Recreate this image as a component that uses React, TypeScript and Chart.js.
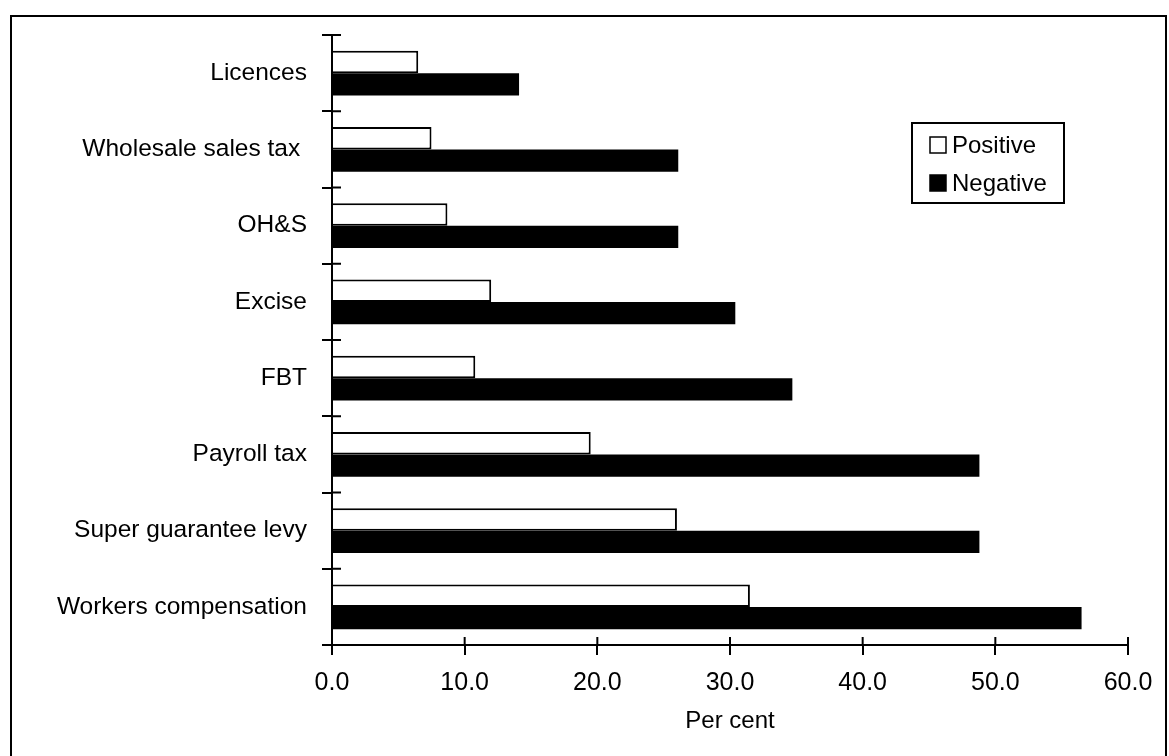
import { useEffect, useRef } from 'react';
import { Chart, registerables } from 'chart.js';

Chart.register(...registerables);

// Categories, listed top to bottom
const categories = [
  'Licences',
  'Wholesale sales tax ',
  'OH&S',
  'Excise',
  'FBT',
  'Payroll tax',
  'Super guarantee levy',
  'Workers compensation',
];

// Share of respondents (per cent)
const positiveValues = [6.5, 7.5, 8.7, 12.0, 10.8, 19.5, 26.0, 31.5];
const negativeValues = [14.1, 26.1, 26.1, 30.4, 34.7, 48.8, 48.8, 56.5];

const seriesNames = ['Positive', 'Negative'];
const xMin = 0;
const xMax = 60;
const xStep = 10;
const xTitle = 'Per cent';

const FONT = '"Liberation Sans", Arial, Helvetica, sans-serif';

// White background plus the surrounding frame
const framePlugin = {
  id: 'frame',
  beforeDraw(chart: any) {
    const { ctx, width, height } = chart;
    ctx.save();
    ctx.fillStyle = '#fff';
    ctx.fillRect(0, 0, width, height);
    ctx.strokeStyle = '#000';
    ctx.lineWidth = 2;
    ctx.strokeRect(11, 16, width - 14, height + 20);
    ctx.restore();
  },
};

// Tick marks that cross the axis lines (inner half)
const crossTicksPlugin = {
  id: 'crossTicks',
  afterDraw(chart: any) {
    const { ctx } = chart;
    const xs = chart.scales.x;
    const ys = chart.scales.y;
    ctx.save();
    ctx.strokeStyle = '#000';
    ctx.lineWidth = 2;
    ctx.beginPath();
    const n = ys.ticks.length;
    for (let i = 0; i <= n; i++) {
      const y = ys.top + (i * (ys.bottom - ys.top)) / n;
      ctx.moveTo(xs.left, y);
      ctx.lineTo(xs.left + 9, y);
    }
    xs.ticks.forEach((t: any) => {
      const px = xs.getPixelForValue(t.value);
      ctx.moveTo(px, ys.bottom);
      ctx.lineTo(px, ys.bottom - 8);
    });
    ctx.stroke();
    ctx.restore();
  },
};

// Boxed legend inside the plot area
const boxLegendPlugin = {
  id: 'boxLegend',
  afterDraw(chart: any) {
    const { ctx, chartArea } = chart;
    const right = chartArea.right - 64;
    const top = chartArea.top + 88;
    const w = 152;
    const h = 80;
    const left = right - w;
    ctx.save();
    ctx.strokeStyle = '#000';
    ctx.lineWidth = 2;
    ctx.fillStyle = '#fff';
    ctx.fillRect(left, top, w, h);
    ctx.strokeRect(left, top, w, h);
    ctx.font = `24px ${FONT}`;
    ctx.textBaseline = 'middle';
    ctx.textAlign = 'left';
    chart.data.datasets.forEach((ds: any, i: number) => {
      const cy = top + 22 + i * 38;
      const sx = left + 18;
      ctx.fillStyle = ds.backgroundColor;
      ctx.fillRect(sx, cy - 8, 16, 16);
      ctx.lineWidth = 1.5;
      ctx.strokeStyle = '#000';
      ctx.strokeRect(sx, cy - 8, 16, 16);
      ctx.fillStyle = '#000';
      ctx.fillText(ds.label, sx + 22, cy + 1);
    });
    ctx.restore();
  },
};

export default function App() {
  const canvasRef = useRef<HTMLCanvasElement | null>(null);

  useEffect(() => {
    const canvas = canvasRef.current;
    if (!canvas) return;
    const chart = new Chart(canvas, {
      type: 'bar',
      data: {
        labels: categories,
        datasets: [
          {
            label: seriesNames[0],
            data: positiveValues,
            backgroundColor: '#ffffff',
            borderColor: '#000000',
            borderWidth: 2,
            categoryPercentage: 0.59,
            barPercentage: 1.0,
          },
          {
            label: seriesNames[1],
            data: negativeValues,
            backgroundColor: '#000000',
            borderColor: '#000000',
            borderWidth: 0,
            categoryPercentage: 0.59,
            barPercentage: 1.0,
          },
        ],
      },
      options: {
        indexAxis: 'y',
        responsive: false,
        animation: false,
        devicePixelRatio: 1,
        layout: { padding: { left: 11, top: 35, right: 41, bottom: 0 } },
        plugins: {
          legend: { display: false },
          tooltip: { enabled: false },
          title: { display: false },
        },
        scales: {
          x: {
            type: 'linear',
            position: 'bottom',
            min: xMin,
            max: xMax,
            ticks: {
              stepSize: xStep,
              color: '#000',
              padding: 13,
              font: { family: FONT, size: 25 },
              callback: (v: any) => Number(v).toFixed(1),
              maxRotation: 0,
            },
            grid: {
              display: true,
              drawOnChartArea: false,
              drawTicks: true,
              tickLength: 10,
              color: '#000',
              lineWidth: 2,
            },
            border: { display: true, color: '#000', width: 2 },
            title: {
              display: true,
              text: xTitle,
              color: '#000',
              font: { family: FONT, size: 24 },
              padding: { top: 0, bottom: 20 },
            },
            afterFit(scale: any) {
              scale.height = 111;
            },
          },
          y: {
            type: 'category',
            position: 'left',
            ticks: {
              color: '#000',
              padding: 15,
              font: { family: FONT, size: 24.5 },
            },
            grid: {
              display: true,
              drawOnChartArea: false,
              drawTicks: true,
              tickLength: 10,
              color: '#000',
              lineWidth: 2,
              offset: true,
            },
            border: { display: true, color: '#000', width: 2 },
            afterFit(scale: any) {
              scale.width = 321;
            },
          },
        },
      },
      plugins: [framePlugin, crossTicksPlugin, boxLegendPlugin],
    });
    return () => chart.destroy();
  }, []);

  return (
    <div style={{ position: 'fixed', left: 0, top: 0, width: 1169, height: 756, background: '#fff' }}>
      <canvas ref={canvasRef} width={1169} height={756} style={{ display: 'block' }} />
    </div>
  );
}
